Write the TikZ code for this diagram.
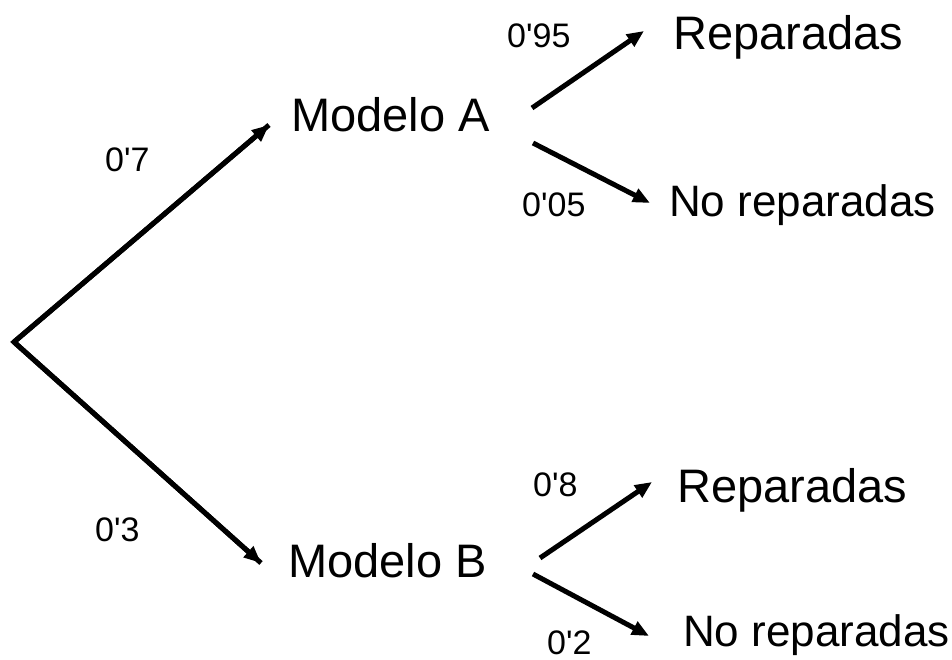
\documentclass[tikz,border=0pt]{standalone}
\usepackage{fontspec}
\setmainfont{Liberation Sans}
\usetikzlibrary{arrows.meta}
\newcommand{\ap}{\textquotesingle}
\begin{document}
\begin{tikzpicture}[x=1pt,y=-1pt,
  big/.style={anchor=base west,inner sep=0pt,font=\fontsize{47}{50}\selectfont},
  mid/.style={anchor=base west,inner sep=0pt,font=\fontsize{44}{48}\selectfont},
  prob/.style={anchor=base west,inner sep=0pt,font=\fontsize{34}{36}\selectfont},
  arr/.style={line width=5pt,-{Triangle[length=17pt,width=14pt]}},
  ]
\useasboundingbox (0,0) rectangle (952,660);
% nodes
\coordinate (root) at (14,342);
\node[big] (A) at (291,132) {Modelo A};
\node[big] (B) at (288,577) {Modelo B};
\node[big] (AR) at (673,50) {Reparadas};
\node[mid] (AN) at (669,217) {No reparadas};
\node[big] (BR) at (677,502) {Reparadas};
\node[mid] (BN) at (683,646) {No reparadas};
% arrow end points
\coordinate (Ain) at (269,125);
\coordinate (Bin) at (261,563);
\coordinate (Aout1) at (532,108);
\coordinate (Aout2) at (533,143);
\coordinate (ARin) at (644,31);
\coordinate (ANin) at (650,203);
\coordinate (Bout1) at (540,558);
\coordinate (Bout2) at (533,574);
\coordinate (BRin) at (652,482);
\coordinate (BNin) at (649,636);
% connectors
\draw[line width=5pt,line join=miter] (Ain) -- (root) -- (Bin);
\draw[arr] (root) -- (Ain);
\draw[arr] (root) -- (Bin);
\draw[arr] (Aout1) -- (ARin);
\draw[arr] (Aout2) -- (ANin);
\draw[arr] (Bout1) -- (BRin);
\draw[arr] (Bout2) -- (BNin);
% probabilities
\node[prob] (p7) at (105,172) {0\ap7};
\node[prob] (p3) at (95,541) {0\ap3};
\node[prob] (p95) at (507,48) {0\ap95};
\node[prob] (p05) at (522,217) {0\ap05};
\node[prob] (p8) at (533,496) {0\ap8};
\node[prob] (p2) at (547,654) {0\ap2};
\end{tikzpicture}
\end{document}
